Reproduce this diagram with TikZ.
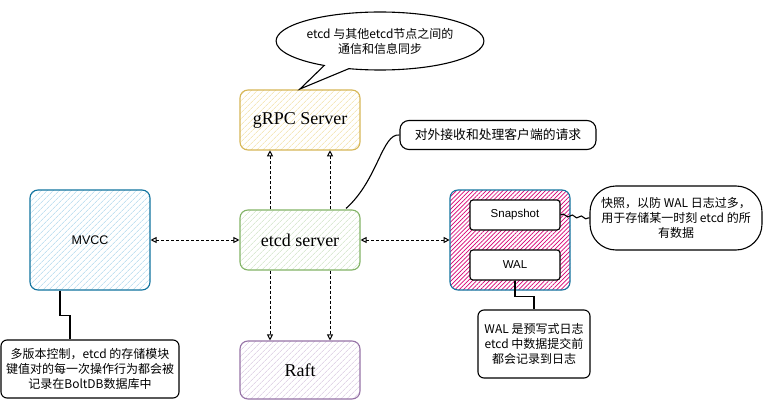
\documentclass[tikz,border=0pt]{standalone}
\usepackage{fontspec}
\setmainfont{Liberation Serif}
\setsansfont{Liberation Sans}
\newfontfamily\cjk{Noto Sans CJK SC}
\usetikzlibrary{arrows.meta,patterns.meta,shapes.callouts,shapes.geometric,decorations.pathmorphing,calc}
\definecolor{ylwD}{HTML}{D6B656}
\definecolor{ylwP}{HTML}{F1DC98}
\definecolor{grnD}{HTML}{82B366}
\definecolor{grnP}{HTML}{C8E0BE}
\definecolor{purD}{HTML}{9673A6}
\definecolor{purP}{HTML}{D3C1DC}
\definecolor{bluD}{HTML}{10739E}
\definecolor{bluP}{HTML}{A2D2EA}
\definecolor{pnkP}{HTML}{D80073}
\tikzset{
  hbox/.style={draw=#1D, line width=1.1pt, rounded corners=8pt, minimum width=120pt,
    preaction={fill=white},
    pattern={Lines[angle=45,distance=4pt,line width=0.6pt]}, pattern color=#1P},
  serifbox/.style={hbox=#1, minimum height=60pt, font=\fontsize{18}{21}\selectfont},
  inbox/.style={draw=black, fill=white, line width=1.1pt, rounded corners=3pt,
    minimum width=90pt, minimum height=30pt, font=\sffamily\fontsize{11.5}{13}\selectfont},
  note/.style={draw=black, fill=white, line width=1.1pt, align=center,
    font=\cjk\fontsize{12}{15}\selectfont, inner sep=2pt},
  dasharrow/.style={dashed, dash pattern=on 3pt off 2pt, line width=1pt,
    -{Triangle[open,length=6pt,width=6pt]}},
  dasharrows/.style={dashed, dash pattern=on 3pt off 2pt, line width=1pt,
    {Triangle[open,length=6pt,width=6pt]}-{Triangle[open,length=6pt,width=6pt]}},
  link/.style={draw=black, line width=1.1pt}
}
\begin{document}
\begin{tikzpicture}[x=1pt,y=-1pt]
\useasboundingbox (0,0) rectangle (763,401);

% main boxes
\node[serifbox=ylw] (grpc) at (300,120) {gRPC Server};
\node[serifbox=grn] (etcd) at (300,240) {etcd server};
\node[serifbox=pur, minimum height=58pt] (raft) at (300,370) {Raft};
\node[hbox=blu, minimum height=100pt, font=\sffamily\fontsize{12.5}{14}\selectfont] (mvcc) at (90,240) {MVCC};
\node[draw=bluD, line width=1.1pt, rounded corners=8pt, minimum width=120pt, minimum height=100pt,
      preaction={fill=white},
      pattern={Lines[angle=45,distance=3pt,line width=0.7pt]}, pattern color=pnkP] (store) at (510,240) {};
\node[inbox] (snap) at (515,215) {Snapshot};
\node[inbox] (wal) at (515,265) {WAL};

% notes
\node[note, ellipse callout, minimum width=168pt, minimum height=58pt, inner sep=0pt,
      callout absolute pointer={(300,89)}] (bubble) at (380,41)
      {etcd 与其他etcd节点之间的\\通信和信息同步};
\node[note, rounded corners=9pt, minimum width=196pt, minimum height=29pt,
      font=\cjk\fontsize{12.8}{15}\selectfont] (req) at (498,135)
      {对外接收和处理客户端的请求};
\node[note, rounded corners=26pt, minimum width=172pt, minimum height=64pt] (snapnote) at (676,218)
      {快照，以防 WAL 日志过多，\\用于存储某一时刻 etcd 的所\\有数据};
\node[note, rounded corners=6pt, minimum width=112pt, minimum height=68pt] (walnote) at (534,344)
      {WAL 是预写式日志\\etcd 中数据提交前\\都会记录到日志};
\node[note, rounded corners=6pt, minimum width=178pt, minimum height=58pt] (mvccnote) at (90,369)
      {多版本控制，etcd 的存储模块\\键值对的每一次操作行为都会被\\记录在BoltDB数据库中};

% arrows
\draw[dasharrow] ($(etcd.north)+(-30,0)$) -- ($(grpc.south)+(-30,0)$);
\draw[dasharrow] ($(etcd.north)+(30,0)$) -- ($(grpc.south)+(30,0)$);
\draw[dasharrow] ($(etcd.south)+(-30,0)$) -- ($(raft.north)+(-30,0)$);
\draw[dasharrow] ($(etcd.south)+(30,0)$) -- ($(raft.north)+(30,0)$);
\draw[dasharrows] (mvcc.east) -- (etcd.west);
\draw[dasharrows] (etcd.east) -- (store.west);

% note links
\coordinate (reqend) at ($(etcd.north)+(46,-1)$);
\draw[link] (req.west) .. controls (382,133) and (378,180) .. (reqend);
\draw[link, decorate, decoration={snake, amplitude=1.2pt, segment length=9pt}] (snap.east) -- (snapnote.west);
\draw[link] (wal.south) -- ++(0,16) -| (walnote.north);
\draw[link] ($(mvcc.south)+(-30,0)$) -- ++(0,25) -| ($(mvccnote.north)+(-20,0)$);
\end{tikzpicture}
\end{document}
